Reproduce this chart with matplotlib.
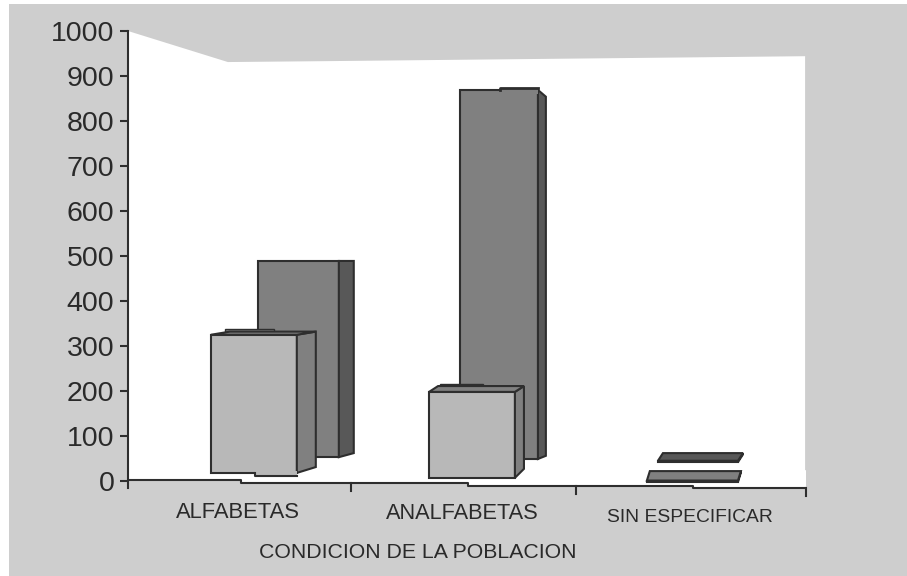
import matplotlib
matplotlib.use("Agg")
import matplotlib.pyplot as plt
from matplotlib.patches import Rectangle

plt.rcParams['font.family'] = ['Liberation Sans', 'DejaVu Sans']

categories = ["ALFABETAS", "ANALFABETAS", "SIN ESPECIFICAR"]
x_title = "CONDICION DE LA POBLACION"
y_ticks = [0, 100, 200, 300, 400, 500, 600, 700, 800, 900, 1000]

# bar heights
light_values = [307, 191, 3]
dark_values = [436, 820, 3]

# where the perspective puts each box (category units / value units)
light_left = [0.367, 1.332, 2.296]
light_width = [0.380, 0.380, 0.403]
light_base = [18, 7, -2]
light_dx = [0.084, 0.040, 0.013]
light_top_rise = [7, 13, 21]
light_bottom_rise = [13, 20, 21]

dark_left = [0.575, 1.469, 2.345]
dark_width = [0.358, 0.345, 0.354]
dark_base = [53, 49, 42]
dark_dx = [0.066, 0.035, 0.022]
dark_top_rise = [0, -15, 17]
dark_bottom_rise = [9, 7, 17]

# little steps on the top edges of the boxes
light_bump_x = [(0.429, 0.646), (1.381, 1.571)]
light_bump_y = [(325, 338), (198, 215.5)]

# the plot wall and the stepped floor line
wall_x = [0, 0.442, 0.876, 3.0 - 0.004, 3.0 - 0.004, 3.0]
wall_y = [1000, 931, 933, 944, 24, 24]
floor_x = [0, 0.5, 0.5, 1.504, 1.504, 2.5, 2.5, 3.0]
floor_y = [2, 2, -4, -4, -11, -11, -16, -16]
tick_x = [0.987, 1.982, 3.0]
tick_floor = [-4, -11, -16]

GREY = "#cecece"
LIGHT = "#b8b8b8"
MID = "#808080"
DARK = "#585858"
EDGE = "#2e2e2e"
TEXT = "#2a2a2a"
LW = 1.5

fig = plt.figure(figsize=(9.07, 5.76), dpi=100, facecolor="white")
fig.patches.append(Rectangle((9 / 907, 0), 1, 572 / 576, transform=fig.transFigure,
                             facecolor=GREY, edgecolor="none", zorder=-1))

ax = fig.add_axes([128 / 907, 0, 678 / 907, 545 / 576])
ax.patch.set_visible(False)
ax.set_xlim(0, 3)
ax.set_ylim(-211.1, 1000)

ax.fill(wall_x + floor_x[::-1], wall_y + floor_y[::-1], color="white", lw=0, zorder=0)


def draw_boxes(left, width, base, values, dx, top_rise, bottom_rise, front, side, top):
    ax.bar(left, values, width=width, bottom=base, align="edge", color=front,
           edgecolor=EDGE, linewidth=LW, zorder=3)
    for i in range(len(values)):
        r = left[i] + width[i]
        t = base[i] + values[i]
        ax.fill([r, r + dx[i], r + dx[i], r],
                [t, t + top_rise[i], base[i] + bottom_rise[i], base[i]],
                facecolor=side, edgecolor=EDGE, linewidth=LW, zorder=3)
        if top_rise[i] > 0:
            ax.fill([left[i], left[i] + dx[i], r + dx[i], r],
                    [t, t + top_rise[i], t + top_rise[i], t],
                    facecolor=top, edgecolor=EDGE, linewidth=LW, zorder=3)


draw_boxes(dark_left, dark_width, dark_base, dark_values, dark_dx,
           dark_top_rise, dark_bottom_rise, MID, DARK, DARK)

# right half of the tall bar sits a step higher
ax.fill([1.646, 1.646, 1.814, 1.814], [860, 873, 873, 860], facecolor=MID, lw=0, zorder=3)
ax.plot([1.646, 1.646, 1.814], [869, 873, 873], color=EDGE, lw=LW + 0.5, zorder=3)

for (x0, x1), (y0, y1) in zip(light_bump_x, light_bump_y):
    ax.fill([x0, x0, x1, x1], [y0, y1, y1, y0], facecolor=MID, edgecolor=EDGE,
            linewidth=1, zorder=3)

draw_boxes(light_left, light_width, light_base, light_values, light_dx,
           light_top_rise, light_bottom_rise, LIGHT, MID, MID)

# the front bars drop a step at the bottom edge too
ax.fill([0.562, 0.562, 0.747, 0.747], [11, 22, 22, 11], facecolor=LIGHT, lw=0, zorder=3)
ax.plot([0.562, 0.562, 0.747], [18, 11, 11], color=EDGE, lw=LW, zorder=3)

ax.plot(floor_x, floor_y, color=EDGE, lw=LW, zorder=5, solid_capstyle="butt")
for x, y_floor in zip(tick_x, tick_floor):
    ax.plot([x, x], [y_floor, y_floor - 18], color=EDGE, lw=LW, zorder=5, clip_on=False)

for s in ["top", "right", "bottom"]:
    ax.spines[s].set_visible(False)
ax.spines["left"].set_bounds(-16, 1000)
ax.spines["left"].set_linewidth(LW)
ax.spines["left"].set_color(EDGE)
ax.set_xticks([])
ax.set_yticks(y_ticks)
ax.tick_params(axis="y", labelsize=20.5, length=5.8, width=LW, color=EDGE,
               labelcolor=TEXT, pad=4)

label_x = [0.487, 1.48, 2.487]
label_y = [-69, -73, -80]
label_size = [15.8, 15.7, 13.9]
for x, y, name, size in zip(label_x, label_y, categories, label_size):
    ax.text(x, y, name, ha="center", va="center", fontsize=size, color=TEXT)
ax.text(1.28, -158, x_title, ha="center", va="center", fontsize=15.3, color=TEXT)

fig.savefig("out.png", dpi=100)
